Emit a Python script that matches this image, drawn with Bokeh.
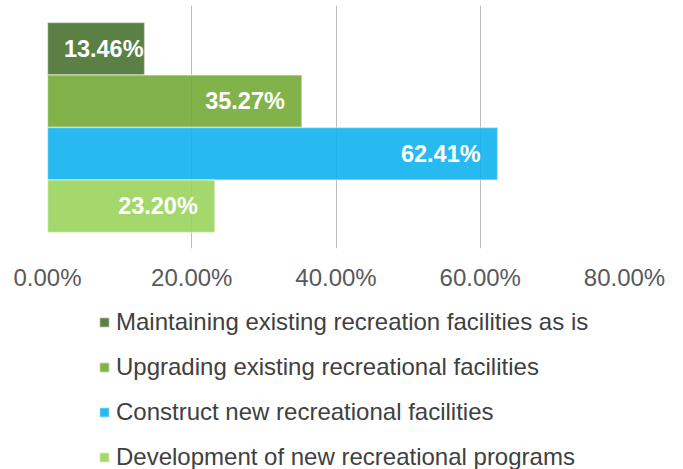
from bokeh.plotting import figure
from bokeh.layouts import column
from bokeh.models import (ColumnDataSource, Legend, LegendItem, Range1d, FixedTicker,
                          CustomJSTickFormatter)
from bokeh.core.properties import value
from bokeh.embed import file_html
from bokeh.resources import INLINE

categories = [
    "Maintaining existing recreation facilities as is",
    "Upgrading existing recreational facilities",
    "Construct new recreational facilities",
    "Development of new recreational programs",
]
percentages = [13.46, 35.27, 62.41, 23.20]
tick_values = [0, 20, 40, 60, 80]
colors = ["#48722f", "#74ab36", "#0fb2ee", "#9ad45c"]

n = len(categories)
ys = [n - i - 0.5 for i in range(n)]
labels = [f"{v:.2f}%" for v in percentages]
offsets = [-17 if v >= 20 else -1 for v in percentages]

source = ColumnDataSource(dict(y=ys, v=percentages, c=colors, cat=categories,
                               lab=labels, off=offsets))

bar_style = dict(fill_color="c", fill_alpha=0.9, line_color="white", line_alpha=0.45,
                 line_width=1.5)

# main chart
p = figure(width=683, height=296, output_backend="svg", toolbar_location=None,
           x_range=Range1d(0, 80), y_range=Range1d(-0.305, 4.324),
           min_border_top=5, min_border_left=47, min_border_right=59, min_border_bottom=48)
p.outline_line_color = None

p.hbar(y="y", right="v", left=0, height=1, source=source, **bar_style)

p.text(x="v", y="y", text="lab", source=source, x_offset="off", text_align="right",
       text_baseline="middle", text_color="white", text_font=value("Liberation Sans"),
       text_font_style="bold", text_font_size="23.5px")

p.yaxis.visible = False
p.ygrid.visible = False
p.xgrid.ticker = FixedTicker(ticks=tick_values)
p.xgrid.grid_line_color = "#bdbdbd"
p.xgrid.grid_line_width = 1

xa = p.xaxis[0]
xa.ticker = FixedTicker(ticks=tick_values)
xa.formatter = CustomJSTickFormatter(code="return tick.toFixed(2) + '%';")
xa.axis_line_color = None
xa.major_tick_line_color = None
xa.minor_tick_line_color = None
xa.major_label_standoff = 9
xa.major_label_text_font = "Liberation Sans"
xa.major_label_text_font_size = "24px"
xa.major_label_text_color = "#595959"

# legend strip (its bars sit far outside the visible range; only the legend shows)
q = figure(width=683, height=173, output_backend="svg", toolbar_location=None,
           x_range=Range1d(-1000, -999), y_range=Range1d(100, 101),
           min_border_top=0, min_border_left=0, min_border_right=0, min_border_bottom=0)
q.axis.visible = False
q.grid.visible = False
q.outline_line_color = None
rl = q.hbar(y="y", right="v", left=0, height=1, source=source, **bar_style)

items = [LegendItem(label=categories[i], renderers=[rl], index=i) for i in range(n)]
legend = Legend(items=items, location=(51, -2), orientation="vertical",
                glyph_width=12, glyph_height=12, label_standoff=6,
                label_text_font="Liberation Sans", label_text_font_size="24px",
                label_text_color="#404040", label_height=24, spacing=17,
                padding=0, margin=0, border_line_color=None, background_fill_alpha=0)
q.add_layout(legend, "center")

layout = column(p, q, spacing=0)
open("out.html", "w").write(file_html(layout, INLINE))
